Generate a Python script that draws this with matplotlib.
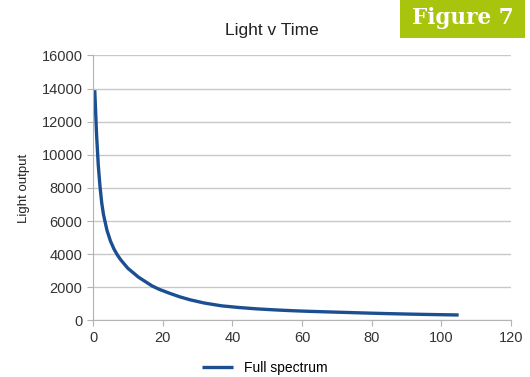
import matplotlib
matplotlib.use("Agg")
import matplotlib.pyplot as plt
from matplotlib.patches import Rectangle

plt.rcParams['font.family'] = ['Liberation Sans', 'DejaVu Sans']

time = [0.5, 1, 1.5, 2, 2.5, 3, 4, 5, 6, 7, 8, 10, 12, 13, 15, 17, 19, 22, 25,
        28, 32, 37, 42, 47, 52, 57, 62, 70, 78, 85, 95, 105]
light = [13900, 11300, 9400, 8100, 7100, 6400, 5450, 4800, 4320, 3950, 3650,
         3150, 2800, 2620, 2350, 2080, 1880, 1640, 1420, 1240, 1050, 880, 780,
         700, 640, 590, 550, 500, 450, 410, 365, 330]
series_name = "Full spectrum"
title = "Light v Time"
ylabel = "Light output"
xticks = [0, 20, 40, 60, 80, 100, 120]
yticks = [0, 2000, 4000, 6000, 8000, 10000, 12000, 14000, 16000]

fig = plt.figure(figsize=(5.3, 3.77), dpi=100)
ax = fig.add_axes([0.1755, 0.15, 0.7885, 0.703])
ax.plot(time, light, color='#1c4f91', lw=2.4, label=series_name,
        solid_capstyle='butt', solid_joinstyle='round')
ax.set_xlim(0, 120)
ax.set_ylim(0, 16000)
ax.set_xticks(xticks)
ax.set_yticks(yticks)
ax.tick_params(labelsize=10.5, colors='#333333', length=4, color='#b3b3b3')
ax.yaxis.grid(True, color='#c8c8c8', lw=1)
ax.set_axisbelow(True)
for s in ['top', 'right']:
    ax.spines[s].set_visible(False)
for s in ['left', 'bottom']:
    ax.spines[s].set_color('#b3b3b3')
ax.set_ylabel(ylabel, fontsize=9.5, color='#222222', labelpad=8)
fig.text(0.513, 0.918, title, ha='center', va='center', fontsize=12.5, color='#222222')
leg = fig.legend(loc='center', bbox_to_anchor=(0.5, 0.025), frameon=False,
                 fontsize=10, handlelength=2.2)

fig.patches.append(Rectangle((0.755, 0.899), 0.236, 0.101, transform=fig.transFigure,
                             facecolor='#a8c40c', edgecolor='none'))
fig.text(0.873, 0.952, "Figure 7", ha='center', va='center', fontsize=15.5,
         fontweight='bold', color='white', family=['DejaVu Serif'])

fig.savefig("out.png", dpi=100)
